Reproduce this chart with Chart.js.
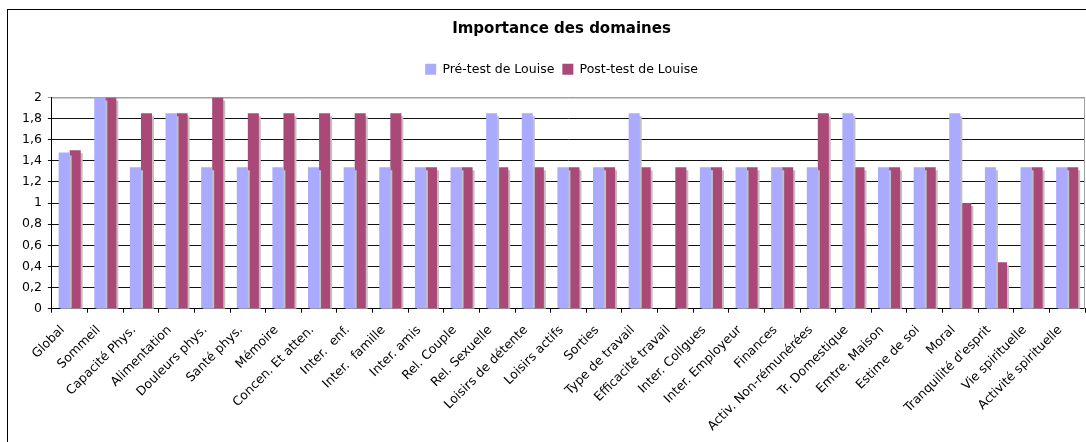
<!DOCTYPE html>
<html>
<head>
<meta charset="utf-8">
<script src="https://cdn.jsdelivr.net/npm/chart.js@4"></script>
<style>
    html, body { margin: 0; padding: 0; background: #fff; overflow: hidden; }
    #frame { position: absolute; left: 7px; top: 9px; width: 1200px; height: 600px; border-left: 1px solid #000; border-top: 1px solid #000; }
    #wrap { position: absolute; left: 8px; top: 10px; width: 1136px; height: 434px; }
</style>
</head>
<body>
<div id="frame"></div>
<div id="wrap"><canvas id="chart"></canvas></div>
<script>
// domaines (axe des x)
const domaines = [
    'Global', 'Sommeil', 'Capacité Phys.', 'Alimentation', 'Douleurs phys.', 'Santé phys.',
    'Mémoire', 'Concen. Et atten.', 'Inter.  enf.', 'Inter.  famille', 'Inter. amis', 'Rel. Couple',
    'Rel. Sexuelle', 'Loisirs de détente', 'Loisirs actifs', 'Sorties', 'Type de travail',
    'Efficacité travail', 'Inter. Collgues', 'Inter. Employeur', 'Finances', 'Activ. Non-rémunérées',
    'Tr. Domestique', 'Emtre. Maison', 'Estime de soi', 'Moral', "Tranquilité d'esprit",
    'Vie spirituelle', 'Activité spirituelle'
];

const preTest = [
    1.48, 2, 1.34, 1.85, 1.34, 1.34, 1.34, 1.34, 1.34, 1.34, 1.34, 1.34, 1.85, 1.85, 1.34,
    1.34, 1.85, 0, 1.34, 1.34, 1.34, 1.34, 1.85, 1.34, 1.34, 1.85, 1.34, 1.34, 1.34
];
const postTest = [
    1.5, 2, 1.85, 1.85, 2, 1.85, 1.85, 1.85, 1.85, 1.85, 1.34, 1.34, 1.34, 1.34, 1.34,
    1.34, 1.34, 1.34, 1.34, 1.34, 1.34, 1.85, 1.34, 1.34, 1.34, 1.0, 0.44, 1.34, 1.34
];

const FONT = 'DejaVu Sans';

// ombre grise des barres, comme dans Excel
const barShadow = {
    id: 'barShadow',
    beforeDatasetDraw(chart) {
        const ctx = chart.ctx;
        ctx.save();
        ctx.shadowColor = '#c0c0c0';
        ctx.shadowOffsetX = 2;
        ctx.shadowOffsetY = 3;
        ctx.shadowBlur = 0;
    },
    afterDatasetDraw(chart) { chart.ctx.restore(); }
};

// cadre gris de la zone de tracé
const plotBorder = {
    id: 'plotBorder',
    beforeDatasetsDraw(chart) {
        const { ctx, chartArea: a } = chart;
        ctx.save();
        ctx.strokeStyle = '#a0a0a0';
        ctx.lineWidth = 1;
        ctx.beginPath();
        ctx.moveTo(a.left, a.top + 0.5);
        ctx.lineTo(a.right - 0.5, a.top + 0.5);
        ctx.lineTo(a.right - 0.5, a.bottom);
        ctx.stroke();
        ctx.restore();
    }
};

// un peu plus d'espace sous la légende
const legendGap = {
    id: 'legendGap',
    beforeInit(chart) {
        const fit = chart.legend.fit;
        chart.legend.fit = function () {
            fit.bind(chart.legend)();
            this.height += 12;
        };
    }
};

new Chart(document.getElementById('chart'), {
    type: 'bar',
    data: {
        labels: domaines,
        datasets: [
            { label: 'Pré-test de Louise', data: preTest, backgroundColor: '#aaaaff', borderWidth: 0 },
            { label: 'Post-test de Louise', data: postTest, backgroundColor: '#aa4878', borderWidth: 0 }
        ]
    },
    options: {
        responsive: true, maintainAspectRatio: false,
        animation: false,
        layout: { padding: { left: 8, right: 37, top: 0, bottom: 0 } },
        categoryPercentage: 0.62,
        barPercentage: 1.0,
        plugins: {
            title: {
                display: true, text: 'Importance des domaines', color: '#000',
                font: { family: FONT, size: 15, weight: 'bold' },
                padding: { top: 10, bottom: 17 }
            },
            legend: {
                position: 'top',
                labels: { boxWidth: 11, boxHeight: 11, padding: 8, color: '#000', font: { family: FONT, size: 12.5 } }
            },
            tooltip: { enabled: false }
        },
        scales: {
            x: {
                grid: { offset: true, drawOnChartArea: false, drawTicks: true, tickLength: 4, color: '#000' },
                border: { color: '#000' },
                ticks: { color: '#000', maxRotation: 45, minRotation: 45, autoSkip: false, padding: 10, labelOffset: -7, font: { family: FONT, size: 12.5 } }
            },
            y: {
                min: 0, max: 2,
                grid: { color: (c) => c.tick && c.tick.value >= 2 ? '#a0a0a0' : '#111', tickLength: 4 },
                border: { color: '#000' },
                ticks: {
                    stepSize: 0.2, color: '#000', padding: 6, font: { family: FONT, size: 12.5 },
                    callback: (v) => String(Math.round(v * 10) / 10).replace('.', ',')
                }
            },
            // axe vide à droite : réserve la place qui recentre titre et légende
            yRight: {
                position: 'right', display: true,
                grid: { display: false }, border: { display: false }, ticks: { display: false },
                afterFit: (s) => { s.width = 22; }
            }
        }
    },
    plugins: [legendGap, plotBorder, barShadow]
});
</script>
</body>
</html>
